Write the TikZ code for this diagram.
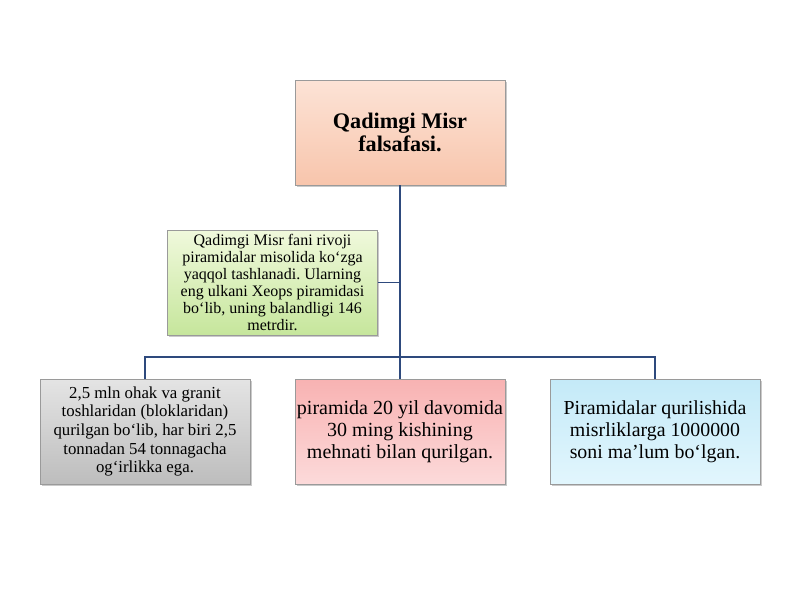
\documentclass[tikz,border=0pt]{standalone}
\usepackage{fontspec}
\setmainfont{Liberation Serif}
\frenchspacing
\usetikzlibrary{shadows}
\definecolor{linec}{HTML}{2E4A7D}
\definecolor{peachT}{HTML}{FCE3D6}
\definecolor{peachB}{HTML}{F8C5AC}
\definecolor{greenT}{HTML}{F0F9DC}
\definecolor{greenB}{HTML}{C6E69C}
\definecolor{grayT}{HTML}{E4E4E4}
\definecolor{grayB}{HTML}{BDBDBD}
\definecolor{pinkT}{HTML}{F8B2B2}
\definecolor{pinkB}{HTML}{FCDADA}
\definecolor{blueT}{HTML}{C4EAF8}
\definecolor{blueB}{HTML}{E2F6FD}
\definecolor{bordc}{HTML}{9A9A9A}
\tikzset{
  box/.style={draw=bordc, line width=0.6pt, minimum width=157.5pt, minimum height=78.75pt,
    align=center, inner sep=1pt, drop shadow={shadow xshift=1.2pt, shadow yshift=-1.5pt, opacity=0.35, fill=black!60}},
  conn/.style={draw=linec, line width=1.3pt},
}
\begin{document}
\begin{tikzpicture}[x=0.75pt,y=-0.75pt]
\useasboundingbox (0,0) rectangle (800,600);
\node[box, top color=peachT, bottom color=peachB, font=\fontsize{16.7}{17.3}\selectfont\bfseries] (top) at (400,132.5) {Qadimgi Misr\\falsafasi.};
\node[box, top color=greenT, bottom color=greenB, font=\fontsize{12}{12.75}\selectfont] (note) at (272.5,282.5) {Qadimgi Misr fani rivoji\\piramidalar misolida ko‘zga\\yaqqol tashlanadi. Ularning\\eng ulkani Xeops piramidasi\\bo‘lib, uning balandligi 146\\metrdir.};
\node[box, top color=grayT, bottom color=grayB, font=\fontsize{12.6}{13.9}\selectfont] (left) at (145,431.5) {2,5 mln ohak va granit\\toshlaridan (bloklaridan)\\qurilgan bo‘lib, har biri 2,5\\tonnadan 54 tonnagacha\\og‘irlikka ega.};
\node[box, top color=pinkT, bottom color=pinkB, font=\fontsize{15}{16.5}\selectfont] (mid) at (400,431.5) {piramida 20 yil davomida\\30 ming kishining\\mehnati bilan qurilgan.};
\node[box, top color=blueT, bottom color=blueB, font=\fontsize{14.9}{16.5}\selectfont] (right) at (655,431.5) {Piramidalar qurilishida\\misrliklarga 1000000\\soni ma’lum bo‘lgan.};
\coordinate (bar) at (400,357);
\coordinate (tap) at (400,282.5);
\draw[conn] (top.south) -- (bar);
\draw[conn] (note.east) -- (tap);
\draw[conn] (left.north) |- (bar) -| (right.north);
\draw[conn] (bar) -- (mid.north);
\end{tikzpicture}
\end{document}
